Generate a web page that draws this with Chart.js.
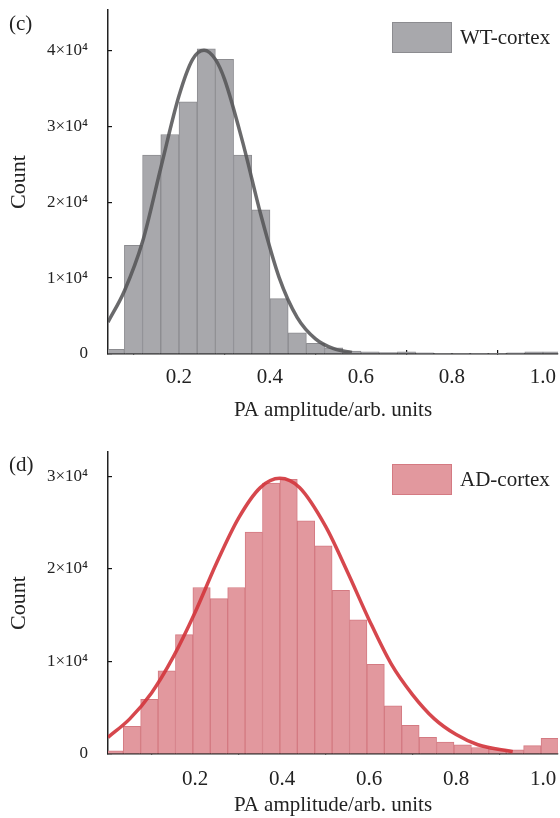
<!DOCTYPE html>
<html>
<head>
<meta charset="utf-8">
<script src="https://cdn.jsdelivr.net/npm/chart.js@4.4.1/dist/chart.umd.min.js"></script>
<style>
body { margin: 0; background: #fff; }
canvas { display: block; }
</style>
</head>
<body>
<canvas id="wt-chart" width="560" height="430"></canvas>
<canvas id="ad-chart" width="560" height="388"></canvas>
<script>
// x axis ticks shared by both panels
const xTickValues = [0.2, 0.4, 0.6, 0.8, 1.0];
const xTickLabels = ['0.2', '0.4', '0.6', '0.8', '1.0'];

// (c) WT-cortex histogram, bins 0.04 wide
const wtBinCenters = [0.06, 0.10, 0.14, 0.18, 0.22, 0.26, 0.30, 0.34, 0.38, 0.42, 0.46, 0.50, 0.54,
    0.58, 0.62, 0.66, 0.70, 0.74, 0.78, 0.82, 0.86, 0.90, 0.94, 0.98, 1.02];
const wtCounts = [600, 14300, 26200, 28900, 33200, 40200, 38800, 26200, 19000, 7300, 2800, 1400, 800,
    400, 300, 200, 300, 150, 100, 100, 100, 100, 150, 300, 300];
const wtFitX = [0.044, 0.08, 0.12, 0.16, 0.20, 0.23, 0.255, 0.28, 0.30, 0.34, 0.38, 0.42, 0.46, 0.50, 0.54, 0.58];
const wtFitY = [4200, 8300, 14800, 24500, 34000, 38800, 40000, 38800, 36200, 27900, 18300, 10100, 4800, 2000, 700, 200];
const wtYTicks = [0, 10000, 20000, 30000, 40000];
const wtYTickLabels = ['0', '1×10⁴', '2×10⁴', '3×10⁴', '4×10⁴'];

// (d) AD-cortex histogram
const adBinCenters = [0.015, 0.055, 0.095, 0.135, 0.175, 0.215, 0.255, 0.295, 0.335, 0.375, 0.415, 0.455, 0.495,
    0.535, 0.575, 0.615, 0.655, 0.695, 0.735, 0.775, 0.815, 0.855, 0.895, 0.935, 0.975, 1.015];
const adCounts = [350, 3000, 5900, 9000, 12900, 18000, 16800, 18000, 24000, 29300, 29700, 25200, 22500,
    17700, 14500, 9700, 5200, 3100, 1800, 1300, 1000, 700, 500, 450, 900, 1700];
const adFitX = [0.0, 0.05, 0.10, 0.15, 0.20, 0.25, 0.30, 0.35, 0.395, 0.44, 0.50, 0.55, 0.60, 0.65, 0.70, 0.75, 0.80, 0.85, 0.93];
const adFitY = [1800, 3800, 6600, 10500, 15300, 20700, 25500, 28800, 29800, 28800, 24600, 19700, 14500, 9800, 6400, 3800, 2100, 1000, 250];
const adYTicks = [0, 10000, 20000, 30000];
const adYTickLabels = ['0', '1×10⁴', '2×10⁴', '3×10⁴'];

Chart.defaults.font.family = '"Liberation Serif", "Times New Roman", serif';
Chart.defaults.color = '#222';

// panel letter + the boxed legend in the top right corner
const panelDecor = {
    id: 'panelDecor',
    afterDraw(chart, args, opts) {
        var ctx = chart.ctx;
        var area = chart.chartArea;
        var bars = chart.data.datasets[1];
        ctx.save();
        ctx.font = '21px "Liberation Serif", serif';
        ctx.textBaseline = 'middle';
        ctx.textAlign = 'left';
        ctx.fillStyle = '#222';
        ctx.fillText(opts.letter, 9, opts.letterY);
        var bx = area.right - 166, by = area.top + 12;
        ctx.fillStyle = bars.backgroundColor;
        ctx.fillRect(bx, by, 60, 31);
        ctx.strokeStyle = bars.borderColor;
        ctx.lineWidth = 1;
        ctx.strokeRect(bx + 0.5, by + 0.5, 59, 30);
        ctx.fillStyle = '#222';
        ctx.fillText(bars.label, bx + 68, by + 16);
        ctx.restore();
    }
};

function histogramChart(canvasId, p) {
    return new Chart(document.getElementById(canvasId), {
        type: 'bar',
        data: {
            datasets: [{
                type: 'line',
                label: 'fit',
                data: p.fitX.map((x, i) => ({x: x, y: p.fitY[i]})),
                borderColor: p.lineColor,
                borderWidth: 3.5,
                pointRadius: 0,
                cubicInterpolationMode: 'monotone',
                order: 0
            }, {
                label: p.label,
                data: p.centers.map((x, i) => ({x: x, y: p.counts[i]})),
                backgroundColor: p.barColor,
                borderColor: p.barBorder,
                borderWidth: 1,
                barPercentage: 1,
                categoryPercentage: 1,
                order: 1
            }]
        },
        options: {
            animation: false,
            responsive: false,
            devicePixelRatio: 1,
            layout: {padding: {top: p.padTop, left: 0, right: 2, bottom: 0}},
            plugins: {
                legend: {display: false},
                tooltip: {enabled: false},
                panelDecor: {letter: p.letter, letterY: p.letterY}
            },
            scales: {
                x: {
                    type: 'linear',
                    min: p.xMin,
                    max: p.xMax,
                    offset: false,
                    afterBuildTicks: function(s) { s.ticks = xTickValues.map(v => ({value: v})); },
                    afterFit: function(s) {
                        s.height = p.xHeight;
                        s.paddingLeft = 0;
                        s.paddingRight = 0;
                    },
                    grid: {display: true, drawOnChartArea: false, tickLength: -4, color: '#111', lineWidth: 1.2},
                    border: {display: true, color: '#222', width: 1.5},
                    ticks: {
                        padding: p.xTickPad,
                        maxRotation: 0,
                        font: {size: 21},
                        callback: function(v, i) { return xTickLabels[i]; }
                    },
                    title: {
                        display: true,
                        text: 'PA amplitude/arb. units',
                        font: {size: 21},
                        padding: {top: 0, bottom: p.titlePad}
                    }
                },
                y: {
                    min: 0,
                    max: p.yMax,
                    afterBuildTicks: function(s) { s.ticks = p.yTicks.map(v => ({value: v})); },
                    afterFit: function(s) {
                        s.width = 108;
                        s.paddingTop = 0;
                        s.paddingBottom = 0;
                    },
                    grid: {display: true, drawOnChartArea: false, tickLength: -4, color: '#111', lineWidth: 1.2},
                    border: {display: true, color: '#222', width: 1.5},
                    ticks: {
                        padding: 24,
                        font: {size: 17},
                        callback: function(v, i) { return p.yTickLabels[i]; }
                    },
                    title: {
                        display: true,
                        text: 'Count',
                        font: {size: 22},
                        padding: {top: 6, bottom: 0}
                    }
                }
            }
        },
        plugins: [panelDecor]
    });
}

histogramChart('wt-chart', {
    label: 'WT-cortex', letter: '(c)', letterY: 24,
    centers: wtBinCenters, counts: wtCounts, fitX: wtFitX, fitY: wtFitY,
    barColor: 'rgb(168,168,172)', barBorder: 'rgb(140,140,144)', lineColor: 'rgba(85,85,88,0.88)',
    xMin: 0.044, xMax: 1.033, yMax: 45300, yTicks: wtYTicks, yTickLabels: wtYTickLabels,
    padTop: 10, xHeight: 76, xTickPad: 15, titlePad: 7
});

histogramChart('ad-chart', {
    label: 'AD-cortex', letter: '(d)', letterY: 35,
    centers: adBinCenters, counts: adCounts, fitX: adFitX, fitY: adFitY,
    barColor: 'rgb(226,152,158)', barBorder: 'rgb(212,122,130)', lineColor: 'rgba(210,55,62,0.92)',
    xMin: 0.0, xMax: 1.034, yMax: 32650, yTicks: adYTicks, yTickLabels: adYTickLabels,
    padTop: 22, xHeight: 64, xTickPad: 17, titlePad: 0
});
</script>
</body>
</html>
